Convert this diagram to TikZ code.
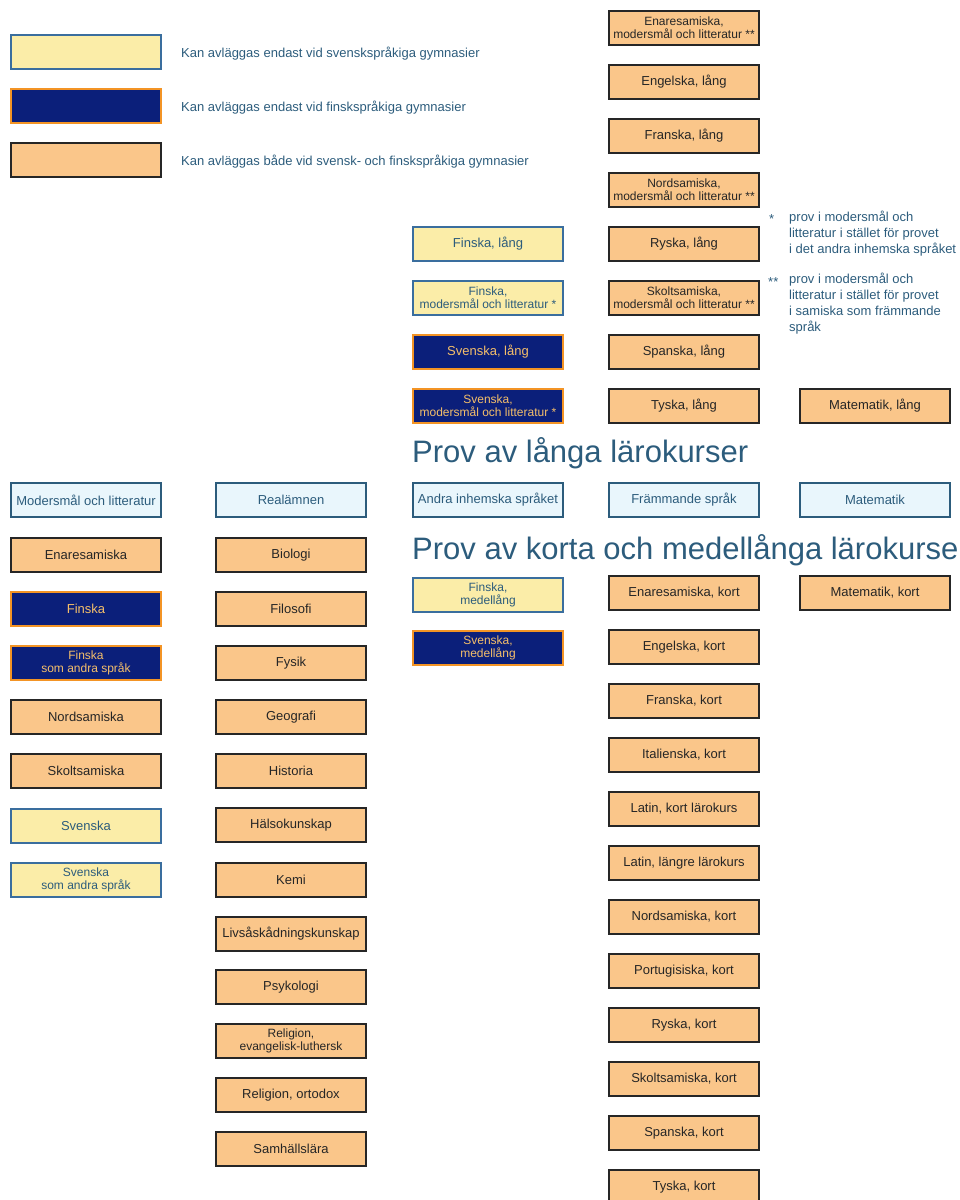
\documentclass[tikz,border=0pt]{standalone}
\usepackage{fontspec}
\setmainfont{Liberation Sans}

\definecolor{peach}{HTML}{FAC68A}
\definecolor{pale}{HTML}{FBEDA8}
\definecolor{navy}{HTML}{0B1F7A}
\definecolor{skin}{HTML}{E9F6FC}
\definecolor{ink}{HTML}{2C5C7C}
\definecolor{rim}{HTML}{3A6E9E}
\definecolor{amber}{HTML}{F39425}
\definecolor{gold}{HTML}{F4BE6A}

\tikzset{
    box/.style={draw, line width=1.6pt, minimum width=150pt, minimum height=34pt,
        inner sep=1pt, align=center, font=\fontsize{13}{14}\selectfont},
    pair/.style={font=\fontsize{12}{13}\selectfont},
    both/.style={box, fill=peach, draw=black!85, text=black!85},
    sv/.style={box, fill=pale, draw=rim, text=ink},
    fi/.style={box, fill=navy, draw=amber, text=gold},
    head/.style={box, fill=skin, draw=ink, line width=1.3pt, text=ink},
    note/.style={text=ink, anchor=west, inner sep=0pt, align=left, font=\fontsize{13}{16}\selectfont},
    title/.style={text=ink, anchor=west, inner sep=0pt, font=\fontsize{31}{31}\selectfont}
}

\begin{document}
\begin{tikzpicture}[x=1pt, y=-1pt]
    \useasboundingbox (0,0) rectangle (960,1200);

    % legend
    \node[sv] (lsv) at (86,52) {};
    \node[fi] (lfi) at (86,106) {};
    \node[both] (lboth) at (86,160) {};
    \node[note] (tsv) at (181,54) {Kan avläggas endast vid svenskspråkiga gymnasier};
    \node[note] (tfi) at (181,108) {Kan avläggas endast vid finskspråkiga gymnasier};
    \node[note] (tboth) at (181,162) {Kan avläggas både vid svensk- och finskspråkiga gymnasier};

    % footnotes
    \node[note] (star1) at (769,219) {*};
    \node[note, anchor=north west] (foot1) at (789,211) {prov i modersmål och\\litteratur i stället för provet\\i det andra inhemska språket};
    \node[note] (star2) at (768,282) {**};
    \node[note, anchor=north west] (foot2) at (789,273) {prov i modersmål och\\litteratur i stället för provet\\i samiska som främmande\\språk};

    % long courses
    \node[both, pair] (enal) at (684,28) {Enaresamiska,\\modersmål och litteratur **};
    \node[both] (engl) at (684,82) {Engelska, lång};
    \node[both] (fral) at (684,136) {Franska, lång};
    \node[both, pair] (nordl) at (684,190) {Nordsamiska,\\modersmål och litteratur **};
    \node[both] (rysl) at (684,244) {Ryska, lång};
    \node[both, pair] (skoll) at (684,298) {Skoltsamiska,\\modersmål och litteratur **};
    \node[both] (spal) at (684,352) {Spanska, lång};
    \node[both] (tysl) at (684,406) {Tyska, lång};
    \node[sv] (finl) at (488,244) {Finska, lång};
    \node[sv, pair] (finml) at (488,298) {Finska,\\modersmål och litteratur *};
    \node[fi] (svel) at (488,352) {Svenska, lång};
    \node[fi, pair] (sveml) at (488,406) {Svenska,\\modersmål och litteratur *};
    \node[both] (matl) at (875,406) {Matematik, lång};

    \node[title] (tlong) at (412,453) {Prov av långa lärokurser};

    % subject headers
    \node[head] (hmod) at (86,500) {Modersmål och litteratur};
    \node[head] (hreal) at (291,500) {Realämnen};
    \node[head] (hinh) at (488,500) {Andra inhemska språket};
    \node[head] (hfram) at (684,500) {Främmande språk};
    \node[head] (hmat) at (875,500) {Matematik};

    \node[title] (tshort) at (412,550) {Prov av korta och medellånga lärokurser};

    % mother tongue
    \node[both] (enam) at (86,555) {Enaresamiska};
    \node[fi] (finm) at (86,609) {Finska};
    \node[fi, pair] (finam) at (86,663) {Finska\\som andra språk};
    \node[both] (nordm) at (86,717) {Nordsamiska};
    \node[both] (skolm) at (86,771) {Skoltsamiska};
    \node[sv] (svem) at (86,826) {Svenska};
    \node[sv, pair] (sveam) at (86,880) {Svenska\\som andra språk};

    % real subjects
    \node[both] (bio) at (291,555) {Biologi};
    \node[both] (filo) at (291,609) {Filosofi};
    \node[both] (fys) at (291,663) {Fysik};
    \node[both] (geo) at (291,717) {Geografi};
    \node[both] (hist) at (291,771) {Historia};
    \node[both] (hals) at (291,825) {Hälsokunskap};
    \node[both] (kemi) at (291,880) {Kemi};
    \node[both] (livs) at (291,934) {Livsåskådningskunskap};
    \node[both] (psyk) at (291,987) {Psykologi};
    \node[both, pair] (relev) at (291,1041) {Religion,\\evangelisk-luthersk};
    \node[both] (relor) at (291,1095) {Religion, ortodox};
    \node[both] (samh) at (291,1149) {Samhällslära};

    % second domestic language
    \node[sv, pair] (finmed) at (488,595) {Finska,\\medellång};
    \node[fi, pair] (svemed) at (488,648) {Svenska,\\medellång};

    % foreign languages, short
    \node[both] (enak) at (684,593) {Enaresamiska, kort};
    \node[both] (engk) at (684,647) {Engelska, kort};
    \node[both] (frak) at (684,701) {Franska, kort};
    \node[both] (itak) at (684,755) {Italienska, kort};
    \node[both] (latk) at (684,809) {Latin, kort lärokurs};
    \node[both] (latl) at (684,863) {Latin, längre lärokurs};
    \node[both] (nordk) at (684,917) {Nordsamiska, kort};
    \node[both] (portk) at (684,971) {Portugisiska, kort};
    \node[both] (rysk) at (684,1025) {Ryska, kort};
    \node[both] (skolk) at (684,1079) {Skoltsamiska, kort};
    \node[both] (spak) at (684,1133) {Spanska, kort};
    \node[both] (tysk) at (684,1187) {Tyska, kort};

    \node[both] (matk) at (875,593) {Matematik, kort};

\end{tikzpicture}
\end{document}
